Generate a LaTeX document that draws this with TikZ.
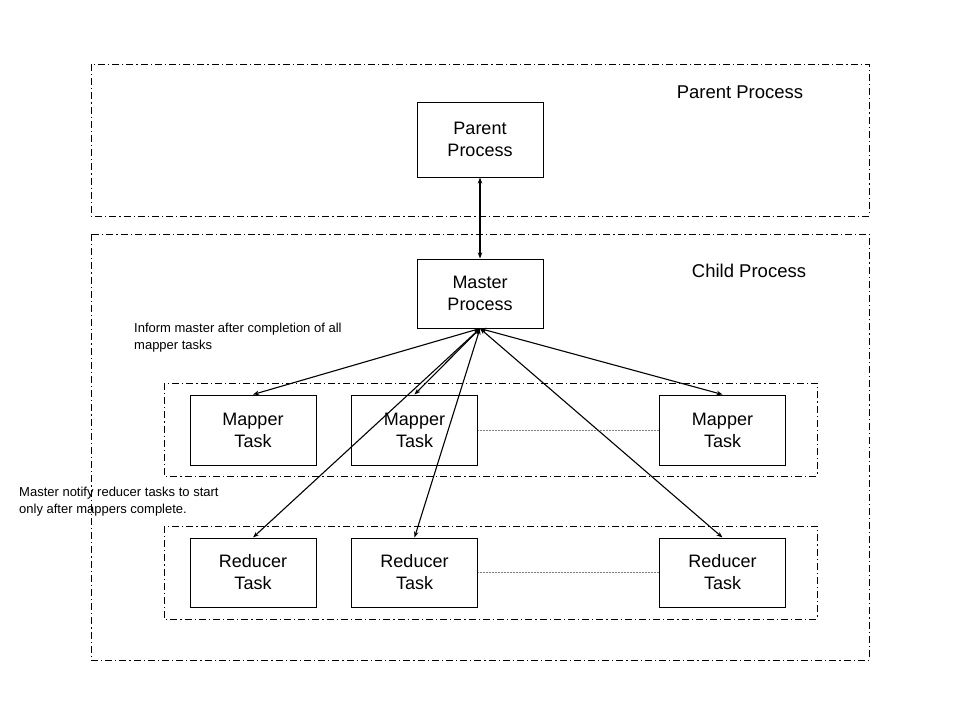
\documentclass[tikz,border=0pt]{standalone}
\usepackage{fontspec}
\setmainfont{Liberation Sans}
\usetikzlibrary{arrows.meta, positioning}

\begin{document}
\begin{tikzpicture}[x=1pt, y=-1pt,
		dashdot/.style={draw, line width=0.7pt, dash pattern=on 7pt off 3pt on 1.2pt off 3pt},
		taskbox/.style={draw, line width=1pt, minimum width=126pt, minimum height=70pt, inner sep=0pt, align=center, font=\fontsize{18}{22}\selectfont},
		link/.style={{Stealth[length=6pt,width=4.5pt]}-{Stealth[length=6pt,width=4.5pt]}, line width=1.1pt},
		note/.style={align=left, anchor=north west, inner sep=0pt, font=\fontsize{13}{17}\selectfont}]
			\useasboundingbox (0, 0) rectangle (960, 720);
			
			% the two process areas
			\draw[dashdot] (91, 64) rectangle (869, 216);
			\draw[dashdot] (91, 234) rectangle (869, 660);
			\node[font=\fontsize{18.5}{22}\selectfont] (parentlabel) at (740, 92) {Parent Process};
			\node[font=\fontsize{18.5}{22}\selectfont] (childlabel) at (749, 271) {Child Process};
			
			% task groups
			\draw[dashdot] (164, 383) rectangle (817, 476);
			\draw[dashdot] (164, 526) rectangle (817, 619);
			
			\node[taskbox, minimum height=75pt] (parent) at (480, 139.5) {Parent\\Process};
			\node[taskbox, minimum height=69pt] (master) at (480, 293.5) {Master\\Process};
			
			\node[taskbox] (mapA) at (253, 430) {Mapper\\Task};
			\node[taskbox] (mapB) at (414.5, 430) {Mapper\\Task};
			\node[taskbox] (mapC) at (722.5, 430) {Mapper\\Task};
			
			\node[taskbox, minimum height=69pt] (redA) at (253, 572.5) {Reducer\\Task};
			\node[taskbox, minimum height=69pt] (redB) at (414.5, 572.5) {Reducer\\Task};
			\node[taskbox, minimum height=69pt] (redC) at (722.5, 572.5) {Reducer\\Task};
			
			\draw[densely dotted, gray, line width=0.5pt] (mapB) -- (mapC);
			\draw[densely dotted, gray, line width=0.5pt] (redB) -- (redC);
			
			\draw[link] (parent.south) -- (master.north);
			\foreach \t in {mapA, mapB, mapC, redA, redB, redC}
				\draw[link] (master.south) -- (\t.north);
			
			\node[note] (informnote) at (134, 323) {Inform master after completion of all\\mapper tasks};
			\node[note] (notifynote) at (19, 487) {Master notify reducer tasks to start\\only after mappers complete.};
			
		\end{tikzpicture}
\end{document}
